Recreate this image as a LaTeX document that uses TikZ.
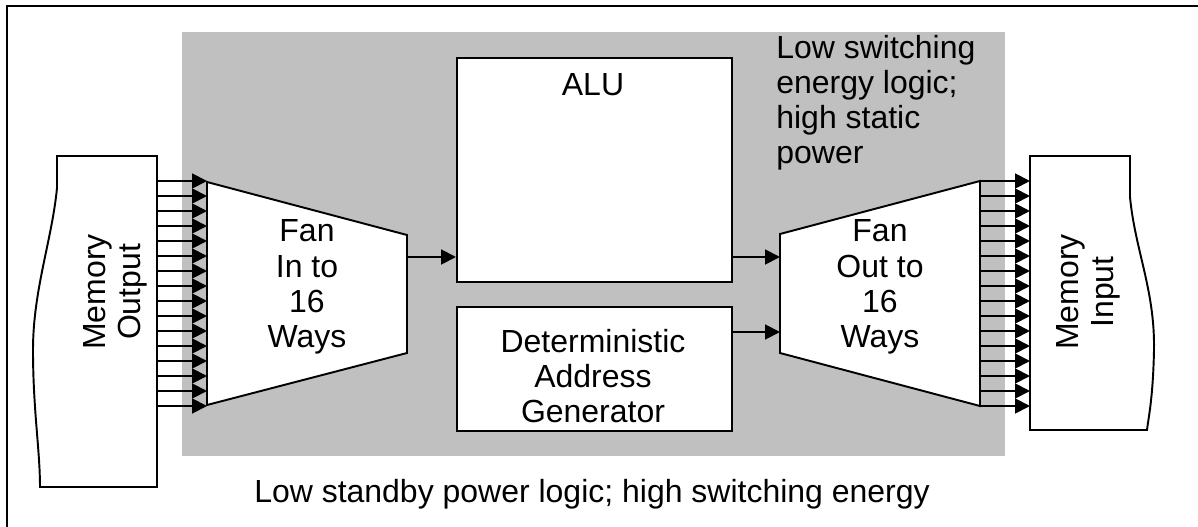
\documentclass[tikz,border=0pt]{standalone}
\usepackage{fontspec}
\setmainfont{Liberation Sans}
\usetikzlibrary{arrows.meta}
\definecolor{zone}{HTML}{C0C0C0}
\tikzset{
  blk/.style={draw, line width=1.1pt, fill=white},
  lbl/.style={font=\fontsize{18.2}{20}\selectfont, align=center, inner sep=0pt},
  sig/.style={line width=1.1pt, -{Triangle[length=8.5pt,width=8.5pt]}},
}
\begin{document}
\begin{tikzpicture}[x=0.02cm, y=-0.02cm]
				\useasboundingbox (0,0) rectangle (1198,527);
				% Frame
				\draw[line width=1.4pt] (7,527) -- (7,6) -- (1198,6);
				% Shaded zone
				\fill[zone] (182,32) rectangle (1005,456);
				% Memories
				\draw[blk] (157,156) -- (57,156) -- (57,188)
					.. controls (52,240) and (33,290) .. (33,350)
					.. controls (33,410) and (40,450) .. (40,487) -- (157,487) -- cycle;
				\draw[blk] (1030,156) -- (1130,156) -- (1130,197)
					.. controls (1135,250) and (1155,290) .. (1154,350)
					.. controls (1153,400) and (1148,420) .. (1147,430) -- (1030,430) -- cycle;
				\node[lbl, rotate=90] (memout) at (115,292) {Memory\\Output};
				\node[lbl, rotate=90] (memin) at (1088,292) {Memory\\Input};
				% Fans
				\draw[blk] (207,182) -- (407,235) coordinate (fi-ne)
					-- (407,353) coordinate (fi-se) -- (207,405) -- cycle;
				\draw[blk] (780,234) coordinate (fo-nw) -- (980,181)
					-- (980,406) -- (780,353) coordinate (fo-sw) -- cycle;
				\node[lbl] (fanin) at (307,287) {Fan\\In to\\16\\Ways};
				\node[lbl] (fanout) at (880,287) {Fan\\Out to\\16\\Ways};
				% Blocks
				\node[blk, anchor=north west, minimum width=5.5cm, minimum height=4.48cm] (alu) at (456,57) {};
				\node[lbl] (alutxt) at (593,85) {ALU};
				\node[blk, anchor=north west, minimum width=5.5cm, minimum height=2.48cm] (dag) at (456,306) {};
				\node[lbl] (dagtxt) at (593,376) {Deterministic\\Address\\Generator};
				% Buses
				\foreach \i in {0,...,15} {
					\coordinate (mo-\i) at (157,181+15*\i);
					\coordinate (fi-\i) at (207,181+15*\i);
					\coordinate (fo-\i) at (980,181+15*\i);
					\coordinate (mi-\i) at (1030,181+15*\i);
					\draw[sig] (mo-\i) -- (fi-\i);
					\draw[sig] (fo-\i) -- (mi-\i);
				}
				% Signals
				\coordinate (fi-out) at (407,257);
				\coordinate (alu-out) at (731,257);
				\coordinate (dag-out) at (731,332);
				\draw[sig] (fi-out) -- (alu.west |- fi-out);
				\draw[sig] (alu-out) -- (fo-nw |- alu-out);
				\draw[sig] (dag-out) -- (fo-nw |- dag-out);
				% Notes
				\node[lbl, align=left, anchor=north west] (fastnote) at (776,35) {Low switching\\energy logic;\\high static\\power};
				\node[lbl] (slownote) at (592,494) {Low standby power logic; high switching energy};
\end{tikzpicture}
\end{document}
